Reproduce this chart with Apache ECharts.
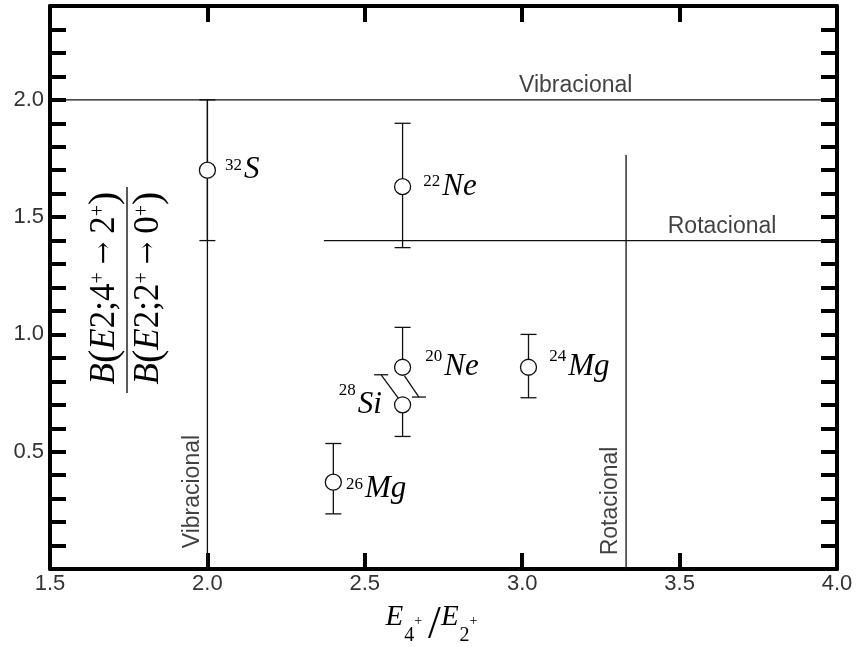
<!DOCTYPE html>
<html><head><meta charset="utf-8">
<script src="https://cdn.jsdelivr.net/npm/echarts@6/dist/echarts.min.js"></script>
<style>html,body{margin:0;padding:0;background:#fff}#c{width:858px;height:647px}</style>
</head><body><div id="c"></div>
<script>
// ---- data ----
const massNumbers = ['32', '22', '20', '24', '28', '26'];
const elements = ['S', 'Ne', 'Ne', 'Mg', 'Si', 'Mg'];
const energyRatio = [2.00, 2.62, 2.62, 3.02, 2.62, 2.40];
const bRatio = [1.70, 1.63, 0.86, 0.86, 0.70, 0.37];
const errLow = [1.40, 1.37, null, 0.73, 0.565, 0.235];
const errHigh = [2.00, 1.90, 1.03, 1.00, null, 0.535];
// displaced whiskers (20Ne lower, 28Si upper): [x0, y0, x1, y1]
const shiftedWhiskers = [[2.626, 0.823, 2.672, 0.733], [2.608, 0.725, 2.552, 0.828]];
const vibracionalH = [[1.5, 2.0], [4.0, 2.0]];
const vibracionalV = [[2.0, 2.0], [2.0, 0.0]];
const rotacionalH = [[2.37, 1.4], [4.0, 1.4]];
const rotacionalV = [[3.33, 1.765], [3.33, 0.0]];
const limitNames = ['Vibracional', 'Rotacional', 'Vibracional', 'Rotacional'];
const limitLabelAt = [[3.17, 2.0], [3.635, 1.4], [2.0, 0.33], [3.33, 0.29]];
const yLabelValues = [0.5, 1.0, 1.5, 2.0];
const xMin = 1.5, xMax = 4.0, xStep = 0.5;
const yMin = 0, yMax = 2.4, yStep = 0.1;

// ---- styles ----
const serif = 'Liberation Serif';
const sans = 'Liberation Sans';
const pointLabelStyle = {
  '32S':  {position: 'right', distance: 9, sup: 'supA'},
  '22Ne': {position: 'right', distance: 12, sup: 'supA'},
  '20Ne': {position: 'right', distance: 14, sup: 'supB'},
  '24Mg': {position: 'right', distance: 12, sup: 'supB'},
  '28Si': {position: 'left', distance: 12, sup: 'supC'},
  '26Mg': {position: 'right', distance: 4, sup: 'supA', offset: [0, 7]}
};
const supBase = {fontFamily: serif, fontSize: 17, verticalAlign: 'top', color: '#000'};
const pointRich = {
  e: {fontFamily: serif, fontStyle: 'italic', fontSize: 31, verticalAlign: 'top', color: '#000', padding: [8, 0, 8, 0]},
  supA: Object.assign({padding: [10, 2, 0, 0]}, supBase),
  supB: Object.assign({padding: [4, 2, 0, 0]}, supBase),
  supC: Object.assign({padding: [1, 2, 0, 0]}, supBase)
};

const pointData = energyRatio.map((x, i) => {
  const key = massNumbers[i] + elements[i];
  const st = pointLabelStyle[key];
  return {
    value: [x, bRatio[i]],
    name: key,
    label: {
      show: true, position: st.position, distance: st.distance, offset: st.offset || [0, 0],
      formatter: '{' + st.sup + '|' + massNumbers[i] + '}{e|' + elements[i] + '}',
      rich: pointRich
    }
  };
});
const errData = energyRatio.map((x, i) => [x, bRatio[i], errLow[i], errHigh[i]]);

const limitLabelData = limitLabelAt.map((p, i) => {
  const vertical = i >= 2;
  return {
    value: p,
    label: vertical
      ? {show: true, position: 'inside', rotate: 90, offset: [0, -15], formatter: limitNames[i]}
      : {show: true, position: 'top', distance: 2, formatter: limitNames[i]}
  };
});

const lineStyle = {color: '#111', width: 1.3};
function refLine(data) {
  return {type: 'line', data: data, symbol: 'none', lineStyle: lineStyle, silent: true, z: 1, xAxisIndex: 0, yAxisIndex: 0};
}

const chart = echarts.init(document.getElementById('c'), null, {renderer: 'canvas'});
const axisLine = {show: true, onZero: false, lineStyle: {color: '#000', width: 4}};
const tickStyle = {show: true, inside: true, length: 16, lineStyle: {color: '#000', width: 4}};

const yTitleRich = {
  b: {fontFamily: serif, fontStyle: 'italic', fontSize: 35, color: '#000'},
  e: {fontFamily: serif, fontStyle: 'italic', fontSize: 35, color: '#000'},
  p: {fontFamily: serif, fontSize: 40, color: '#000'},
  n: {fontFamily: serif, fontSize: 35, color: '#000'},
  s: {fontFamily: serif, fontSize: 20, verticalAlign: 'top', color: '#000', padding: [4, 0, 0, 0]},
  a: {fontFamily: 'DejaVu Serif', fontSize: 27, color: '#000', padding: [0, 8, 0, 8]}
};

chart.setOption({
  animation: false,
  backgroundColor: '#fff',
  grid: {left: 50, right: 21, top: 6, bottom: 78, outerBoundsMode: 'none', containLabel: false},
  xAxis: [{
    type: 'value', min: xMin, max: xMax, interval: xStep, position: 'bottom',
    axisLine: axisLine, axisTick: tickStyle, splitLine: {show: false},
    axisLabel: {show: true, color: '#333', fontFamily: sans, fontSize: 22, margin: 4, formatter: v => v.toFixed(1)},
    name: '{E|E}{sb|4}{sp|+}{sl|/}{E|E}{sb|2}{sp|+}',
    nameLocation: 'middle', nameGap: 32,
    nameTextStyle: {
      padding: [0, 24, 0, 0],
      rich: {
        E: {fontFamily: serif, fontStyle: 'italic', fontSize: 29, verticalAlign: 'top', color: '#000', padding: [2, 0, 0, 0]},
        sb: {fontFamily: serif, fontSize: 20, verticalAlign: 'top', color: '#000', padding: [25, 0, 0, 1]},
        sp: {fontFamily: serif, fontSize: 14, verticalAlign: 'top', color: '#000', padding: [13, 0, 0, 0]},
        sl: {fontFamily: serif, fontSize: 46, verticalAlign: 'top', color: '#000', padding: [2, 0, 0, 6]}
      }
    }
  }, {
    type: 'value', min: xMin, max: xMax, interval: xStep, position: 'top',
    axisLine: axisLine, axisTick: tickStyle, splitLine: {show: false}, axisLabel: {show: false}
  }],
  yAxis: [{
    type: 'value', min: yMin, max: yMax, interval: yStep, position: 'left',
    axisLine: axisLine, axisTick: tickStyle, splitLine: {show: false},
    axisLabel: {
      show: true, color: '#333', fontFamily: sans, fontSize: 22, margin: 6,
      formatter: v => yLabelValues.some(t => Math.abs(t - v) < 1e-6) ? v.toFixed(1) : ''
    }
  }, {
    type: 'value', min: yMin, max: yMax, interval: yStep, position: 'right',
    axisLine: axisLine, axisTick: tickStyle, splitLine: {show: false}, axisLabel: {show: false}
  }],
  graphic: [{
    type: 'group', x: 127, y: 290, rotation: Math.PI / 2,
    children: [
      {type: 'line', shape: {x1: -103, y1: 0, x2: 103, y2: 0}, style: {stroke: '#000', lineWidth: 1.3}},
      {type: 'text', x: 2, y: -22, style: {
        text: '{b|B}{p|(}{e|E}{n|2;4}{s|+}{a|→}{n|2}{s|+}{p|)}', rich: yTitleRich,
        align: 'center', verticalAlign: 'middle'}},
      {type: 'text', x: 2, y: 22, style: {
        text: '{b|B}{p|(}{e|E}{n|2;2}{s|+}{a|→}{n|0}{s|+}{p|)}', rich: yTitleRich,
        align: 'center', verticalAlign: 'middle'}}
    ]
  }],
  series: [
    refLine(vibracionalH), refLine(vibracionalV), refLine(rotacionalH), refLine(rotacionalV),
    {
      type: 'custom', data: errData, z: 2, silent: true,
      renderItem: function (params, api) {
        const x = api.value(0);
        const lo = api.value(2), hi = api.value(3);
        const children = [];
        const c = api.coord([x, api.value(1)]);
        const half = 8;
        [lo, hi].forEach(v => {
          if (v === null || isNaN(v)) return;
          const p = api.coord([x, v]);
          children.push({type: 'line', shape: {x1: c[0], y1: c[1], x2: p[0], y2: p[1]}, style: {stroke: '#111', lineWidth: 1.3}});
          children.push({type: 'line', shape: {x1: p[0] - half, y1: p[1], x2: p[0] + half, y2: p[1]}, style: {stroke: '#111', lineWidth: 1.3}});
        });
        return {type: 'group', children: children};
      }
    },
    {
      type: 'custom', data: shiftedWhiskers, z: 2, silent: true,
      renderItem: function (params, api) {
        const a = api.coord([api.value(0), api.value(1)]);
        const b = api.coord([api.value(2), api.value(3)]);
        const half = 7;
        return {type: 'group', children: [
          {type: 'line', shape: {x1: a[0], y1: a[1], x2: b[0], y2: b[1]}, style: {stroke: '#111', lineWidth: 1.3}},
          {type: 'line', shape: {x1: b[0] - half, y1: b[1], x2: b[0] + half, y2: b[1]}, style: {stroke: '#111', lineWidth: 1.3}}
        ]};
      }
    },
    {
      type: 'scatter', data: pointData, z: 3, symbol: 'circle', symbolSize: 16,
      itemStyle: {color: '#fff', borderColor: '#111', borderWidth: 1.3, opacity: 1}
    },
    {
      type: 'scatter', data: limitLabelData, z: 3, symbol: 'circle', symbolSize: 1, silent: true,
      itemStyle: {color: 'rgba(0,0,0,0)'},
      label: {color: '#111', fontFamily: sans, fontSize: 23}
    }
  ]
});
</script>
</body></html>
